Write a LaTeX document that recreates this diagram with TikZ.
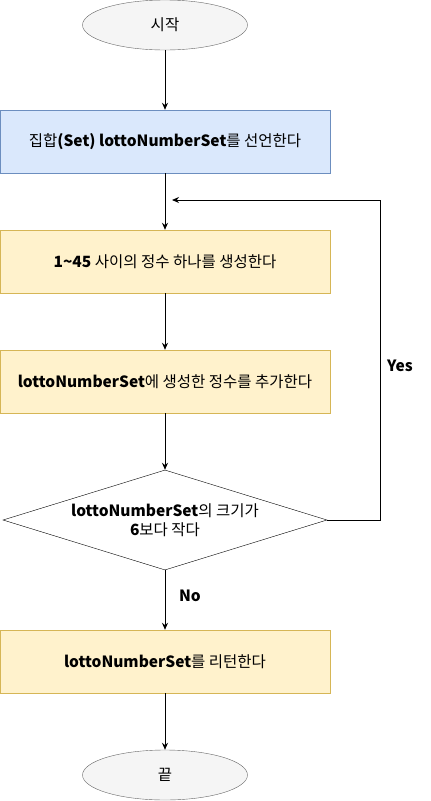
\documentclass[tikz,border=0pt]{standalone}
\usepackage{fontspec}
\setmainfont{Noto Sans CJK KR}
\usepackage{tikz}
\usetikzlibrary{shapes.geometric,arrows.meta}

\definecolor{termfill}{HTML}{F5F5F5}
\definecolor{termline}{HTML}{666666}
\definecolor{declfill}{HTML}{DAE8FC}
\definecolor{declline}{HTML}{6C8EBF}
\definecolor{stepfill}{HTML}{FFF2CC}
\definecolor{stepline}{HTML}{D6B656}

\tikzset{
    terminal/.style={ellipse, draw=termline, fill=termfill, minimum width=165pt, minimum height=50pt, inner sep=0pt},
    declbox/.style={rectangle, draw=declline, fill=declfill, minimum width=330pt, minimum height=63pt, inner sep=0pt},
    stepbox/.style={rectangle, draw=stepline, fill=stepfill, minimum width=330pt, minimum height=63pt, inner sep=0pt},
    testbox/.style={diamond, draw, fill=white, aspect=3.24, minimum width=324pt, minimum height=100pt, inner sep=0pt, align=center},
    flow/.style={->, line width=1pt},
    tag/.style={font=\fontsize{15.5}{19}\selectfont\bfseries}
}

\begin{document}
\begin{tikzpicture}[x=1pt, y=1pt, font=\fontsize{15.5}{19}\selectfont, >={Stealth[length=7pt,width=6pt]}]
    \useasboundingbox (0,0) rectangle (431,-801);
    \node[terminal] (start) at (165,-25) {시작};
    \node[declbox]  (decl)  at (165,-141.5) {집합\textbf{(Set) lottoNumberSet}를 선언한다};
    \node[stepbox]  (gen)   at (165,-261.5) {\textbf{1\textasciitilde45} 사이의 정수 하나를 생성한다};
    \node[stepbox]  (add)   at (165,-381.5) {\textbf{lottoNumberSet}에 생성한 정수를 추가한다};
    \node[testbox]  (test)  at (165,-520) {\textbf{lottoNumberSet}의 크기가\\\textbf{6}보다 작다};
    \node[stepbox]  (ret)   at (165,-661.5) {\textbf{lottoNumberSet}를 리턴한다};
    \node[terminal] (stop)  at (165,-775) {끝};

    \coordinate (loopin) at (172,-200);
    \coordinate (loopcorner) at (380,-200);

    \draw[flow] (start) -- (decl);
    \draw[flow] (decl) -- (gen);
    \draw[flow] (gen) -- (add);
    \draw[flow] (add) -- (test);
    \draw[flow] (test) -- (ret);
    \draw[flow] (ret) -- (stop);
    \draw[flow] (test.east) -| (loopcorner) -- (loopin);
    \node[tag] (yes) at (400,-366) {Yes};
    \node[tag] (no)  at (190,-596) {No};
\end{tikzpicture}
\end{document}
